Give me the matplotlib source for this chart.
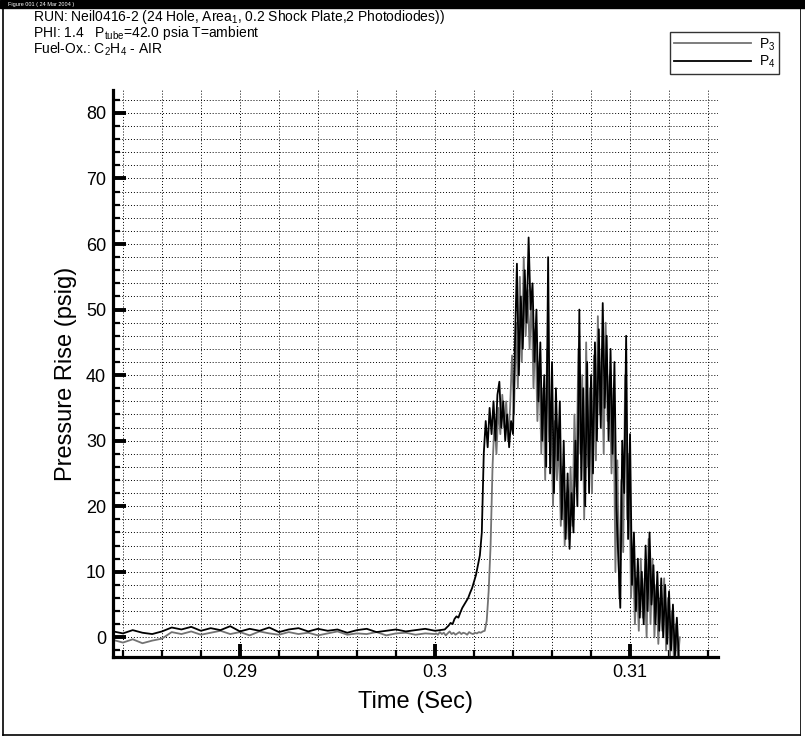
import numpy as np
import matplotlib
matplotlib.use("Agg")
import matplotlib.pyplot as plt
from matplotlib.lines import Line2D
from matplotlib.patches import Rectangle

plt.rcParams['font.family'] = ['Liberation Sans', 'DejaVu Sans']
plt.rcParams['mathtext.fontset'] = 'custom'
plt.rcParams['mathtext.rm'] = 'Liberation Sans'
plt.rcParams['mathtext.it'] = 'Liberation Sans'

# baseline samples (0.2835 .. 0.3000 s, every 0.5 ms)
p3_base = [0.9, 0.6, 1.1, 0.7, 0.5, 0.9, 1.5, 1.2, 1.6, 1.0,
           1.4, 1.1, 1.7, 0.9, 1.3, 1.0, 1.5, 0.8, 1.2, 1.4,
           0.9, 1.3, 1.0, 1.2, 0.7, 1.1, 1.3, 0.8, 1.0, 1.2,
           0.9, 1.1, 1.3, 1.0]
p4_base = [-0.4, -0.8, -0.3, -0.9, -0.5, -0.2, 0.8, 0.5, 0.9, 0.4,
           0.7, 1.0, 0.5, 0.8, 0.3, 0.9, 0.6, 0.4, 0.8, 0.5,
           0.7, 0.3, 0.6, 0.9, 0.4, 0.6, 0.5, 0.8, 0.3, 0.6,
           0.7, 0.4, 0.6, 0.5]

# combustion part, every 0.1 ms
p3_start = 0.3005
p3_burn = [1.2, 1.5, 1.8, 2.2, 2.0, 2.8, 3.2, 3.0, 3.8, 4.5,
           5.0, 5.5, 6.0, 6.8, 7.5, 8.5, 9.5, 11, 12.5, 16,
           28, 33, 29, 35, 31, 36, 30, 37, 39, 32,
           36, 30, 34, 29, 33, 31, 45, 57, 40, 52,
           44, 56, 48, 61, 50, 54, 42, 50, 36, 45,
           30, 40, 26, 58, 25, 42, 22, 38, 27, 36,
           18, 30, 15, 25, 13.5, 22, 16, 30, 20, 50,
           24, 38, 20, 42, 22, 40, 25, 45, 30, 47,
           32, 51, 35, 46, 30, 44, 28, 42, 20, 12,
           4.5, 30, 22, 46, 15, 31, 8, 16, 4, 12,
           3, 10, 2, 14, 4, 16, 5, 11, 2, 10,
           1, 9, 0, 8, -1, 7, -2, 5, -3, 3,
           -3]
p4_start = 0.30005
p4_burn = [0.6, 0.4, 0.8, 0.5, 0.7, 0.3, 0.6, 0.9, 0.5, 0.7,
           0.4, 0.6, 0.8, 0.5, 0.7, 0.6, 0.4, 0.8, 0.6, 0.5,
           0.7, 0.6, 0.8, 0.7, 0.9, 1.0, 2.5, 7, 14, 26,
           33, 28, 35, 31, 37, 32, 36, 30, 35, 43,
           34, 48, 38, 55, 42, 58, 46, 53, 44, 52,
           38, 47, 33, 42, 28, 38, 24, 44, 30, 36,
           20, 33, 24, 30, 17, 26, 14, 22, 15, 26,
           17, 34, 23, 44, 28, 40, 18, 45, 26, 38,
           22, 43, 27, 49, 34, 44, 28, 48, 33, 40,
           25, 38, 10, 27, 6, 24, 13, 40, 18, 28,
           6, 13, 2, 9, 1, 12, 3, 9, 0, 15,
           2, 12, 0, 8, -1, 6, 1, 9, -2, 6,
           -3, 4, -3.5, 2, -3.5, 0]

xticks = [0.29, 0.30, 0.31]
xticklabels = ["0.29", "0.3", "0.31"]
yticks = [0, 10, 20, 30, 40, 50, 60, 70, 80]

header = ["RUN: Neil0416-2 (24 Hole, Area$_1$, 0.2 Shock Plate,2 Photodiodes))",
          "PHI: 1.4   P$_{\\mathrm{tube}}$=42.0 psia T=ambient",
          "Fuel-Ox.: C$_2$H$_4$ - AIR"]

t_base = np.linspace(0.2835, 0.3000, len(p3_base))
t3 = np.concatenate([t_base, p3_start + 0.0001 * np.arange(len(p3_burn))])
t4 = np.concatenate([t_base, p4_start + 0.0001 * np.arange(len(p4_burn))])
y3 = np.array(p3_base + p3_burn)
y4 = np.array(p4_base + p4_burn)

W, H = 805, 739
fig = plt.figure(figsize=(W / 100, H / 100), dpi=100)
ax = fig.add_axes([113 / W, 1 - 657 / H, 605 / W, 567 / H])

ax.plot(t4, y4, color="0.45", lw=1.3, label="P$_3$")
ax.plot(t3, y3, color="black", lw=1.3, label="P$_4$")

ax.set_xlim(0.28349, 0.31451)
ax.set_ylim(-3.0, 83.5)

ax.set_xticks(xticks)
ax.set_xticklabels(xticklabels)
ax.set_yticks(yticks)
ax.set_xticks(np.arange(0.284, 0.3145, 0.002), minor=True)
ax.set_yticks(np.arange(-2, 83, 2), minor=True)
ax.tick_params(which="major", direction="in", length=9.5, width=2.8,
               labelsize=13, pad=5)
ax.tick_params(which="minor", direction="in", length=5, width=1.6)
ax.tick_params(top=False, right=False)

ax.grid(which="both", color="black", linestyle=(0, (1, 2)), linewidth=0.7)

for s in ["top", "right"]:
    ax.spines[s].set_visible(False)
for s in ["left", "bottom"]:
    ax.spines[s].set_linewidth(2.3)

ax.set_xlabel("Time (Sec)", fontsize=17, labelpad=7)
ax.set_ylabel("Pressure Rise (psig)", fontsize=17, labelpad=6)

# header lines
for i, line in enumerate(header):
    fig.text(33 / W, 1 - (21 + 16.5 * i) / H, line, fontsize=10, va="baseline")

leg = fig.legend(loc="upper left", bbox_to_anchor=(663 / W, 1 - 25 / H),
                 frameon=True, fancybox=False, edgecolor="black",
                 fontsize=10, handlelength=5.5, handletextpad=0.6,
                 borderpad=0.3, labelspacing=0.1)
leg.get_frame().set_linewidth(1.0)

# scanned page frame
fig.add_artist(Rectangle((0, 1 - 8 / H), 1, 8 / H, transform=fig.transFigure,
                         color="black"))
fig.text(8 / W, 1 - 6 / H, "Figure 001 ( 24 Mar 2004 )", color="white", fontsize=4)
fig.add_artist(Line2D([3 / W, 3 / W], [1 - 735 / H, 1 - 8 / H],
                      transform=fig.transFigure, color="black", lw=1.2))
fig.add_artist(Line2D([3 / W, 800 / W], [1 - 735 / H, 1 - 735 / H],
                      transform=fig.transFigure, color="black", lw=1.2))
fig.add_artist(Line2D([800 / W, 800 / W], [1 - 735 / H, 1 - 8 / H],
                      transform=fig.transFigure, color="black", lw=0.6))

fig.savefig("out.png", dpi=100)
